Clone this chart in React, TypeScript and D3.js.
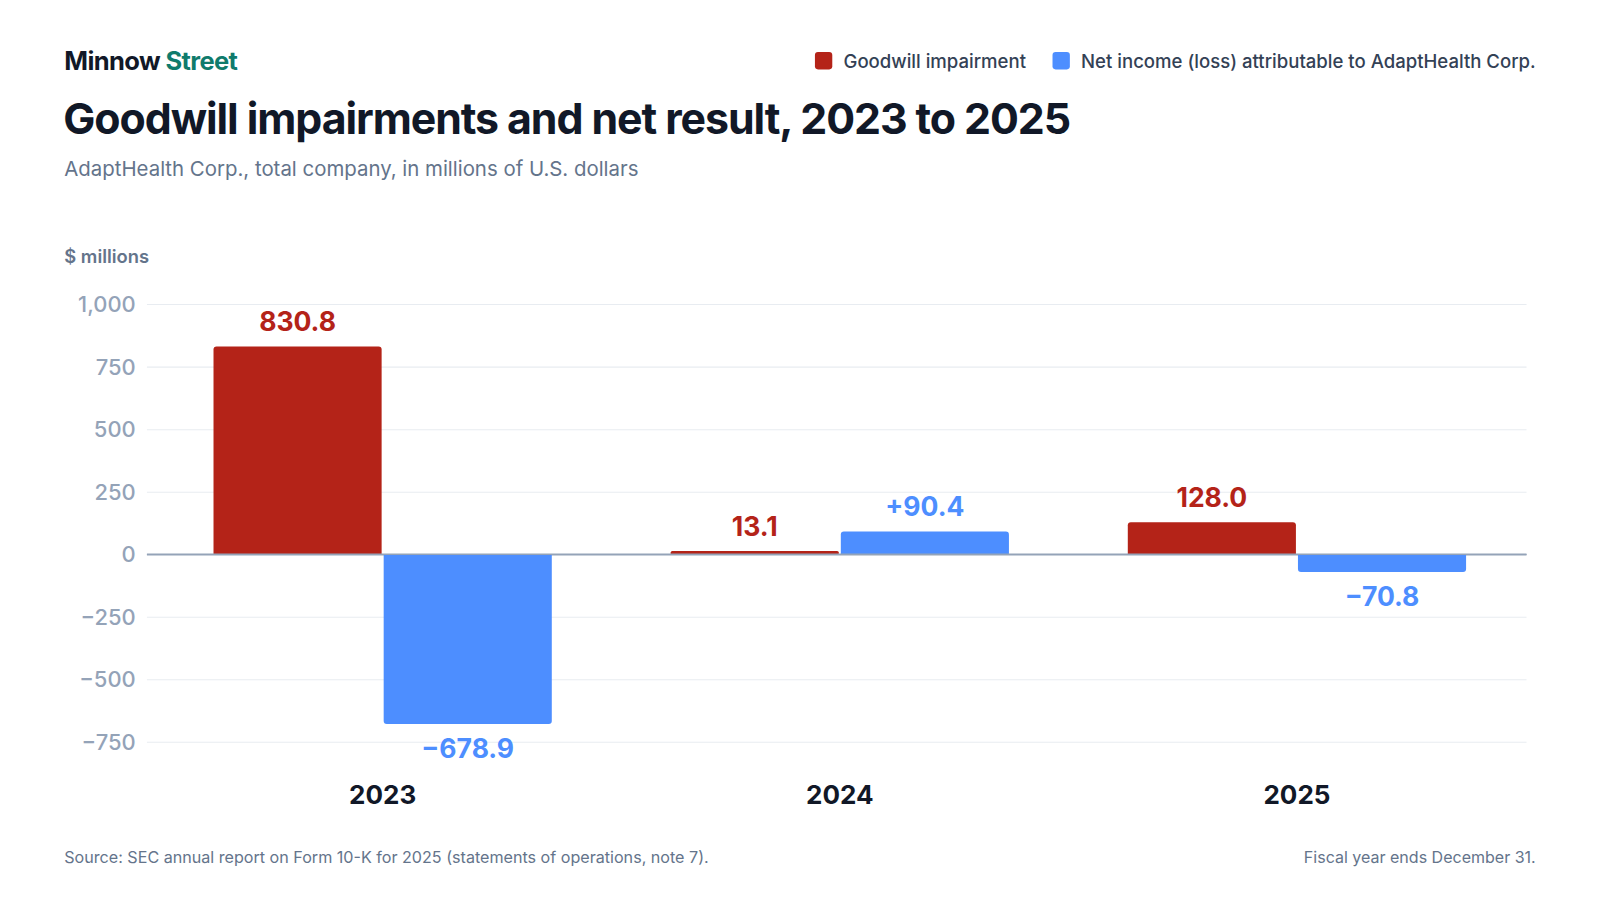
import React, { useEffect, useRef } from 'react';
import * as d3 from 'd3';

const years = ['2023', '2024', '2025'];
const goodwill = [830.8, 13.1, 128.0];
const netIncome = [-678.9, 90.4, -70.8];
const yTicks = [-750, -500, -250, 0, 250, 500, 750, 1000];

const seriesKeys = ['goodwill', 'net'];
const seriesNames = ['Goodwill impairment', 'Net income (loss) attributable to AdaptHealth Corp.'];
const seriesColors = ['#B42318', '#4D8EFF'];

// drawing units (viewBox), stretched to the 1600x900 window
const VW = 1568;
const VH = 882;
const FONT = 'Inter, "Noto Sans", sans-serif';

// bar path with rounded corners only on the end away from zero
function barPath(x: number, w: number, y0: number, y1: number, r: number) {
  const up = y1 < y0;
  const h = Math.abs(y1 - y0);
  const rr = Math.min(r, h / 2, w / 2);
  if (up) {
    return `M${x},${y0}V${y1 + rr}Q${x},${y1} ${x + rr},${y1}H${x + w - rr}Q${x + w},${y1} ${x + w},${y1 + rr}V${y0}Z`;
  }
  return `M${x},${y0}V${y1 - rr}Q${x},${y1} ${x + rr},${y1}H${x + w - rr}Q${x + w},${y1} ${x + w},${y1 - rr}V${y0}Z`;
}

const App: React.FC = () => {
  const svgRef = useRef<SVGSVGElement>(null);

  useEffect(() => {
    const svg = d3.select(svgRef.current);
    svg.selectAll('*').remove();

    svg.append('rect').attr('width', VW).attr('height', VH).attr('fill', '#ffffff');

    const data = years.map((yr, i) => ({ year: yr, goodwill: goodwill[i], net: netIncome[i] }));

    const x0 = d3.scaleBand<string>()
      .domain(years)
      .range([151, 1495])
      .paddingInner(0.26)
      .paddingOuter(0.13);

    const x1 = d3.scaleBand<string>()
      .domain(seriesKeys)
      .range([0, x0.bandwidth()])
      .paddingInner(0.012);

    const y = d3.scaleLinear().domain([-750, 1000]).range([727, 298]);

    const color = d3.scaleOrdinal<string, string>().domain(seriesKeys).range(seriesColors);

    // header
    const brand = svg.append('text')
      .attr('x', 63).attr('y', 69)
      .attr('font-family', FONT).attr('font-size', 25).attr('font-weight', 700)
      .attr('letter-spacing', '-0.6px')
      .attr('fill', '#111827');
    brand.append('tspan').text('Minnow ');
    brand.append('tspan').attr('fill', '#0F7B6C').text('Street');

    svg.append('text')
      .attr('x', 62).attr('y', 131)
      .attr('font-family', FONT).attr('font-size', 42).attr('font-weight', 700)
      .attr('letter-spacing', '-1.05px')
      .attr('fill', '#111827')
      .text('Goodwill impairments and net result, 2023 to 2025');

    svg.append('text')
      .attr('x', 63).attr('y', 172)
      .attr('font-family', FONT).attr('font-size', 20)
      .attr('fill', '#64748B')
      .text('AdaptHealth Corp., total company, in millions of U.S. dollars');

    // legend, right aligned
    const legend = svg.append('g').attr('font-family', FONT).attr('font-size', 18.2).attr('fill', '#334155');
    let lx = 1505;
    for (let i = seriesNames.length - 1; i >= 0; i--) {
      const t = legend.append('text')
        .attr('x', lx).attr('y', 67)
        .attr('text-anchor', 'end')
        .attr('font-weight', 500)
        .text(seriesNames[i]);
      const w = (t.node() as SVGTextElement).getComputedTextLength();
      legend.append('rect')
        .attr('x', lx - w - 28).attr('y', 51)
        .attr('width', 17).attr('height', 17).attr('rx', 3)
        .attr('fill', seriesColors[i]);
      lx = lx - w - 28 - 26;
    }

    // axis title
    svg.append('text')
      .attr('x', 63).attr('y', 258)
      .attr('font-family', FONT).attr('font-size', 18).attr('font-weight', 600)
      .attr('fill', '#64748B')
      .text('$ millions');

    // grid + y ticks
    const yAxis = d3.axisLeft(y)
      .tickValues(yTicks)
      .tickSize(-(1496 - 144))
      .tickPadding(11)
      .tickFormat(d3.format(','));

    const gy = svg.append('g').attr('transform', 'translate(144,0)').call(yAxis);
    gy.select('.domain').remove();
    gy.selectAll('.tick line')
      .attr('stroke', (d: any) => (d === 0 ? '#94A3B8' : '#E8ECF1'))
      .attr('stroke-width', (d: any) => (d === 0 ? 1.5 : 1));
    gy.selectAll('.tick text')
      .attr('font-family', FONT).attr('font-size', 21.5).attr('font-weight', 500)
      .attr('fill', '#94A3B8')
      .attr('dy', '0.35em');

    // bars
    const groups = svg.append('g').selectAll('g')
      .data(data)
      .enter().append('g')
      .attr('transform', d => `translate(${x0(d.year)},0)`);

    groups.selectAll('path')
      .data(d => seriesKeys.map(k => ({ key: k, value: (d as any)[k] as number })))
      .enter().append('path')
      .attr('d', d => barPath(x1(d.key)!, x1.bandwidth(), y(0), y(d.value), 3))
      .attr('fill', d => color(d.key));

    // zero line on top of bars
    svg.append('line')
      .attr('x1', 144).attr('x2', 1496)
      .attr('y1', y(0)).attr('y2', y(0))
      .attr('stroke', '#94A3B8').attr('stroke-width', 1.5);

    const fmtGoodwill = d3.format('.1f');
    const fmtNet = d3.format('+.1f');

    groups.selectAll('text.value')
      .data(d => seriesKeys.map(k => ({ key: k, value: (d as any)[k] as number })))
      .enter().append('text')
      .attr('class', 'value')
      .attr('x', d => x1(d.key)! + x1.bandwidth() / 2)
      .attr('y', d => (d.value >= 0 ? y(d.value) - 15 : y(d.value) + 33))
      .attr('text-anchor', 'middle')
      .attr('font-family', FONT).attr('font-size', 26).attr('font-weight', 700)
      .attr('fill', d => color(d.key))
      .text(d => (d.key === 'net' ? fmtNet(d.value) : fmtGoodwill(d.value)));

    // year labels
    svg.append('g').selectAll('text')
      .data(years)
      .enter().append('text')
      .attr('x', d => x0(d)! + x0.bandwidth() / 2)
      .attr('y', 788)
      .attr('text-anchor', 'middle')
      .attr('font-family', FONT).attr('font-size', 25.5).attr('font-weight', 700)
      .attr('fill', '#111827')
      .text(d => d);

    // footer
    svg.append('text')
      .attr('x', 63).attr('y', 846)
      .attr('font-family', FONT).attr('font-size', 15.8)
      .attr('fill', '#64748B')
      .text('Source: SEC annual report on Form 10-K for 2025 (statements of operations, note 7).');

    svg.append('text')
      .attr('x', 1505).attr('y', 846)
      .attr('text-anchor', 'end')
      .attr('font-family', FONT).attr('font-size', 15.7)
      .attr('fill', '#64748B')
      .text('Fiscal year ends December 31.');
  }, []);

  return (
    <svg
      ref={svgRef}
      width={1600}
      height={900}
      viewBox={`0 0 ${VW} ${VH}`}
      style={{ position: 'absolute', top: 0, left: 0, display: 'block' }}
    />
  );
};

export default App;
